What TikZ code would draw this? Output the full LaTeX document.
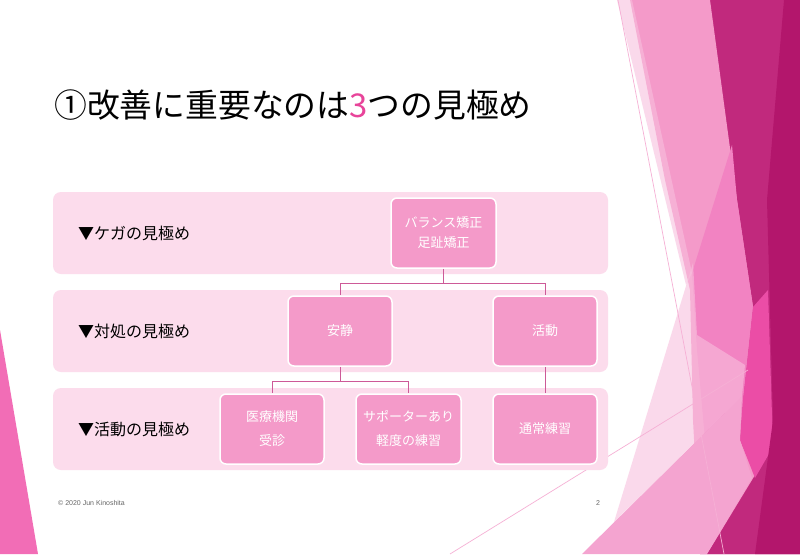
\documentclass[tikz,border=0pt]{standalone}
\usepackage{fontspec}
\setmainfont{Noto Sans CJK JP}
\newfontfamily\footfont{Liberation Sans}
\definecolor{band}{HTML}{FCDCEC}
\definecolor{nodepink}{HTML}{F49AC9}
\definecolor{conn}{HTML}{CD5A98}
\definecolor{titlepink}{HTML}{E8449A}
\definecolor{darkm}{HTML}{C1297D}
\definecolor{darkest}{HTML}{B3166C}
\definecolor{mainpink}{HTML}{F49AC9}
\definecolor{medpink}{HTML}{F283C2}
\definecolor{hotpink}{HTML}{EB4DA6}
\definecolor{tripink}{HTML}{F4A4D0}
\definecolor{palepink}{HTML}{F8C0DE}
\definecolor{leftpink}{HTML}{F26DB6}
\definecolor{thinline}{HTML}{F6B0D5}
\tikzset{
  bandbox/.style={fill=band, draw=none, rounded corners=8pt, minimum width=555pt, minimum height=82pt, inner sep=0pt},
  stepbox/.style={fill=nodepink, draw=white, line width=1.5pt, rounded corners=6pt, minimum height=70pt, inner sep=0pt, text=white, align=center},
  rowlabel/.style={anchor=west, inner sep=0pt, font=\fontsize{16}{19}\selectfont},
  connector/.style={draw=conn, line width=0.9pt},
}
\begin{document}
\begin{tikzpicture}[x=1pt,y=-1pt]
\useasboundingbox (0,0) rectangle (800,554);
\fill[white] (0,0) rectangle (800,554);
% decorative background (right)
\fill[darkm] (708,0) -- (800,0) -- (800,554) -- (700,554) -- cycle;
\fill[mainpink] (630,0) -- (710,0) -- (737,200) -- (753,307) -- (743,400) -- (740,440) -- (755,475) -- (707,554) -- (700,554) -- (693,420) -- (690,290) -- (665,180) -- cycle;
\fill[medpink] (732,145) -- (737,200) -- (753,307) -- (743,400) -- (740,440) -- (705,440) -- (697,350) -- (692,273) -- cycle;
\fill[hotpink] (753,307) -- (768,290) -- (773,447) -- (755,478) -- (740,440) -- (743,400) -- cycle;
\fill[darkm] (800,413) -- (800,554) -- (707,554) -- cycle;
\fill[darkest] (784,0) -- (800,0) -- (800,554) -- (755,554) -- (773,420) -- (767,200) -- cycle;
\fill[tripink] (582,554) -- (742,396) -- (740,440) -- (752,478) -- (707,554) -- cycle;
\fill[palepink, opacity=0.6] (614,522) -- (693,263) -- (697,335) -- (745,365) -- (742,396) -- cycle;
\fill[palepink, opacity=0.6] (617,0) -- (632,0) -- (692,273) -- (686,285) -- cycle;
\draw[thinline, line width=0.7pt] (618,0) -- (724,554);
\draw[thinline, line width=0.7pt] (450,554) -- (748,370);
% left decoration
\fill[leftpink] (0,330) -- (38,554) -- (0,554) -- cycle;
% title
\node[anchor=west, inner sep=0pt, font=\fontsize{32.8}{38}\selectfont] (title) at (54,105) {①改善に重要なのは\textcolor{titlepink}{3}つの見極め};
% bands
\node[bandbox] (b1) at (330.5,233) {};
\node[bandbox] (b2) at (330.5,331) {};
\node[bandbox] (b3) at (330.5,429) {};
% row labels
\node[rowlabel] (l1) at (78,233) {▼ケガの見極め};
\node[rowlabel] (l2) at (78,331) {▼対処の見極め};
\node[rowlabel] (l3) at (78,429) {▼活動の見極め};
% boxes
\node[stepbox, minimum width=105pt, font=\fontsize{13}{20}\selectfont] (n1) at (443.5,233) {バランス矯正\\足趾矯正};
\node[stepbox, minimum width=104pt, font=\fontsize{13}{20}\selectfont] (n2) at (340,331) {安静};
\node[stepbox, minimum width=104pt, font=\fontsize{13}{20}\selectfont] (n3) at (545,331) {活動};
\node[stepbox, minimum width=104pt, font=\fontsize{13}{24}\selectfont] (n4) at (272,429) {医療機関\\受診};
\node[stepbox, minimum width=105pt, font=\fontsize{13}{24}\selectfont] (n5) at (408.5,429) {サポーターあり\\軽度の練習};
\node[stepbox, minimum width=104pt, font=\fontsize{13}{20}\selectfont] (n6) at (545,429) {通常練習};
% connectors
\draw[connector] (n1.south) -- ++(0,15) coordinate (m1) -| (n2.north);
\draw[connector] (m1) -| (n3.north);
\draw[connector] (n2.south) -- ++(0,15) coordinate (m2) -| (n4.north);
\draw[connector] (m2) -| (n5.north);
\draw[connector] (n3.south) -- (n6.north);
% footer
\node[anchor=west, inner sep=0pt, font=\footfont\fontsize{7}{8}\selectfont, text=black!60] (foot) at (58,503) {© 2020 Jun Kinoshita};
\node[inner sep=0pt, font=\footfont\fontsize{7}{8}\selectfont, text=black!60] (pg) at (598,503) {2};
\end{tikzpicture}
\end{document}
